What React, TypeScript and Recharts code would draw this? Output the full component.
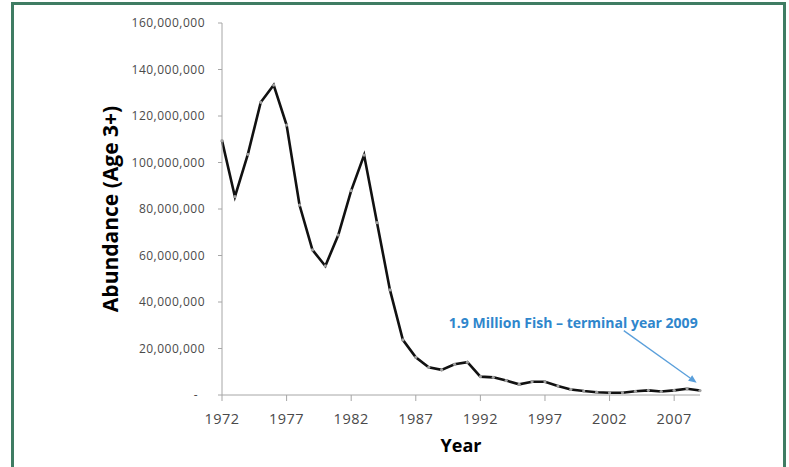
import { Label, Line, LineChart, ReferenceLine, XAxis, YAxis } from "recharts";

const years = [
  1972, 1973, 1974, 1975, 1976, 1977, 1978, 1979, 1980, 1981, 1982, 1983, 1984,
  1985, 1986, 1987, 1988, 1989, 1990, 1991, 1992, 1993, 1994, 1995, 1996, 1997,
  1998, 1999, 2000, 2001, 2002, 2003, 2004, 2005, 2006, 2007, 2008, 2009,
];

const abundance = [
  109.4, 85.3, 103.5, 125.9, 133.3, 116.1, 81.7, 62.4, 55.5, 68.8, 87.9, 103.2,
  74.1, 45.2, 23.7, 16.2, 11.9, 10.8, 13.2, 14.1, 7.9, 7.6, 6.2, 4.6, 5.7, 5.7,
  3.9, 2.4, 1.7, 1.2, 1.0, 1.0, 1.6, 2.0, 1.5, 2.0, 2.7, 1.9,
].map((m) => m * 1e6);

const xTicks = [1972, 1977, 1982, 1987, 1992, 1997, 2002, 2007];
const yTicks = [0, 20e6, 40e6, 60e6, 80e6, 100e6, 120e6, 140e6, 160e6];

const annotation = "1.9 Million Fish \u2013 terminal year 2009";
const arrowFrom = { x: 2003.1, y: 27.7e6 };
const arrowTo = { x: 2008.74, y: 5.3e6 };

const data = years.map((year, i) => ({ year, value: abundance[i] }));

const FONT = "'Open Sans', sans-serif";
const AXIS_GREY = "#a6a6a6";
const TICK_GREY = "#4a4a4a";
const BLUE = "#2f86cc";

function YTick(props: any) {
  const { x, y, payload } = props;
  const v = payload.value as number;
  const txt = v === 0 ? "-" : v.toLocaleString("en-US");
  return (
    <text
      x={x}
      y={y}
      dx={v === 0 ? -7 : 0}
      dy={4}
      textAnchor="end"
      fill={TICK_GREY}
      fontSize={12}
      letterSpacing={0.5}
      fontFamily={FONT}
    >
      {txt}
    </text>
  );
}

// blue arrow + note pointing at the 2009 value
function ArrowShape(props: any) {
  const { x1, y1, x2, y2 } = props;
  const ang = Math.atan2(y2 - y1, x2 - x1);
  const len = 8;
  const w = 3.5;
  const bx = x2 - len * Math.cos(ang);
  const by = y2 - len * Math.sin(ang);
  const px = -Math.sin(ang) * w;
  const py = Math.cos(ang) * w;
  return (
    <g>
      <line x1={x1} y1={y1} x2={bx} y2={by} stroke="#5a9fdb" strokeWidth={1.3} />
      <polygon
        points={`${x2},${y2} ${bx + px},${by + py} ${bx - px},${by - py}`}
        fill="#5a9fdb"
      />
      <text
        x={x2 + 1}
        y={y1 - 3}
        textAnchor="end"
        fill={BLUE}
        fontSize={14}
        fontWeight={700}
        fontFamily={FONT}
      >
        {annotation}
      </text>
    </g>
  );
}

export default function App() {
  return (
    <div
      style={{
        position: "absolute",
        left: 0,
        top: 0,
        width: 789,
        height: 467,
        overflow: "hidden",
        background: "#fff",
      }}
    >
      <div
        style={{
          position: "absolute",
          left: 11,
          top: 2,
          width: 769,
          height: 500,
          border: "3px solid #3f7c63",
        }}
      />
      <div style={{ position: "absolute", left: 0, top: 0 }}>
        <LineChart
          width={789}
          height={467}
          data={data}
          margin={{ top: 23, right: 89, bottom: 0, left: 0 }}
        >
          <XAxis
            dataKey="year"
            type="number"
            domain={[1972, 2009]}
            ticks={xTicks}
            height={72}
            tickSize={6}
            tickMargin={13}
            stroke={AXIS_GREY}
            tick={{ fill: TICK_GREY, fontSize: 14.5, fontFamily: FONT, letterSpacing: 0.5 }}
          >
            <Label
              value="Year"
              position="insideBottom"
              offset={15}
              style={{ fontSize: 18, fontWeight: 700, fill: "#000", fontFamily: FONT }}
            />
          </XAxis>
          <YAxis
            type="number"
            domain={[0, 160e6]}
            ticks={yTicks}
            width={222}
            tickSize={4}
            tickMargin={13}
            stroke={AXIS_GREY}
            tick={<YTick />}
          >
            <Label
              content={({ viewBox }: any) => {
                const cy = viewBox.y + viewBox.height / 2;
                return (
                  <text
                    x={110}
                    y={cy}
                    transform={`rotate(-90, 110, ${cy})`}
                    textAnchor="middle"
                    dominantBaseline="central"
                    fontSize={21}
                    fontWeight={700}
                    fontFamily={FONT}
                    fill="#000"
                  >
                    Abundance (Age 3+)
                  </text>
                );
              }}
            />
          </YAxis>
          <Line
            type="linear"
            dataKey="value"
            stroke="#111"
            strokeWidth={2.6}
            dot={{ r: 1.6, fill: "#a0a0a0", stroke: "none" }}
            activeDot={false}
            isAnimationActive={false}
          />
          <ReferenceLine
            segment={[arrowFrom, arrowTo]}
            shape={<ArrowShape />}
          />
        </LineChart>
      </div>
    </div>
  );
}
